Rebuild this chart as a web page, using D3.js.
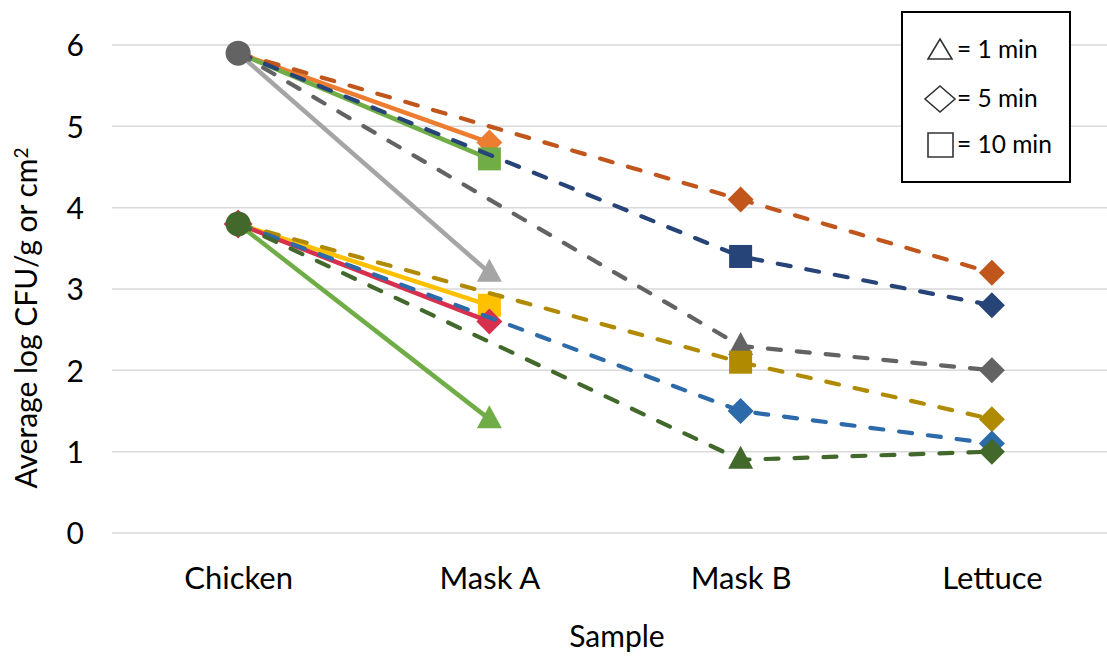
<!DOCTYPE html>
<html>
<head>
<meta charset="utf-8">
<script src="https://cdn.jsdelivr.net/npm/d3@7/dist/d3.min.js"></script>
<style>
  html, body { margin: 0; padding: 0; background: #ffffff; }
  svg { display: block; }
  text { font-family: Lato, "Open Sans", sans-serif; fill: #000; }
</style>
</head>
<body>
<svg id="chart" width="1107" height="656"></svg>
<script>
// ---------- DATA ----------
const categories = ["Chicken", "Mask A", "Mask B", "Lettuce"];
const yTicks = [0, 1, 2, 3, 4, 5, 6];
const legendLabels = ["= 1 min", "= 5 min", "= 10 min"];
const legendShapes = ["triangle", "diamond", "square"];

// series values (null = no point at that category)
const orangeSolid   = [5.9, 4.8, null, null];
const greenSolidTop = [5.9, 4.6, null, null];
const graySolid     = [5.9, 3.2, null, null];
const yellowSolid   = [3.8, 2.8, null, null];
const redSolid      = [3.8, 2.6, null, null];
const greenSolid    = [3.8, 1.4, null, null];
const orangeDashed  = [5.9, null, 4.1, 3.2];
const navyDashed    = [5.9, null, 3.4, 2.8];
const grayDashed    = [5.9, null, 2.3, 2.0];
const goldDashed    = [3.8, null, 2.1, 1.4];
const blueDashed    = [3.8, null, 1.5, 1.1];
const darkGreenDashed = [3.8, null, 0.9, 1.0];

// marker shape per point
const orangeSolidM   = [null, "diamond", null, null];
const greenSolidTopM = [null, "square", null, null];
const graySolidM     = [null, "triangle", null, null];
const yellowSolidM   = [null, "square", null, null];
const redSolidM      = ["bigdiamond", "diamond", null, null];
const greenSolidM    = [null, "triangle", null, null];
const orangeDashedM  = [null, null, "diamond", "diamond"];
const navyDashedM    = [null, null, "square", "diamond"];
const grayDashedM    = ["circle", null, "triangle", "diamond"];
const goldDashedM    = [null, null, "square", "diamond"];
const blueDashedM    = [null, null, "diamond", "diamond"];
const darkGreenDashedM = ["circle", null, "triangle", "diamond"];

const series = [
  { values: orangeSolid,   markers: orangeSolidM,   color: "#ED7D31", dashed: false },
  { values: greenSolidTop, markers: greenSolidTopM, color: "#70AD47", dashed: false },
  { values: graySolid,     markers: graySolidM,     color: "#A5A5A5", dashed: false },
  { values: yellowSolid,   markers: yellowSolidM,   color: "#FFC000", dashed: false },
  { values: redSolid,      markers: redSolidM,      color: "#D7304F", dashed: false },
  { values: greenSolid,    markers: greenSolidM,    color: "#70AD47", dashed: false },
  { values: orangeDashed,  markers: orangeDashedM,  color: "#C0561B", dashed: true },
  { values: navyDashed,    markers: navyDashedM,    color: "#264478", dashed: true },
  { values: grayDashed,    markers: grayDashedM,    color: "#636363", dashed: true },
  { values: goldDashed,    markers: goldDashedM,    color: "#B08A00", dashed: true },
  { values: blueDashed,    markers: blueDashedM,    color: "#2C6AAA", dashed: true },
  { values: darkGreenDashed, markers: darkGreenDashedM, color: "#43682B", dashed: true }
];

// ---------- LAYOUT ----------
const svg = d3.select("#chart");
const x = d3.scalePoint().domain(categories).range([112.5, 1117.5]).padding(0.5);
const y = d3.scaleLinear().domain([0, 6]).range([533, 45]);

// gridlines
svg.append("g").selectAll("line").data(yTicks).join("line")
  .attr("x1", 112).attr("x2", 1107)
  .attr("y1", d => y(d)).attr("y2", d => y(d))
  .attr("stroke", "#d9d9d9").attr("stroke-width", 1.5);

// y axis tick labels
const yAxis = d3.axisLeft(y).tickValues(yTicks).tickSize(0).tickPadding(0).tickFormat(d3.format("d"));
const gy = svg.append("g").attr("transform", "translate(84,0)").call(yAxis);
gy.select(".domain").remove();
gy.selectAll("text").style("font-size", "30px").attr("dy", "0.36em").attr("fill", "#000");

// x axis labels
const xAxis = d3.axisBottom(x).tickSize(0).tickPadding(0);
const gx = svg.append("g").attr("transform", "translate(0,578)").call(xAxis);
gx.select(".domain").remove();
gx.selectAll("text").style("font-size", "31px").attr("dy", "0.36em").attr("fill", "#000");

// axis titles
svg.append("text").attr("x", x.range()[0] + (x.range()[1] - x.range()[0]) / 2 + 2).attr("y", 647)
  .attr("text-anchor", "middle").style("font-size", "30px").text("Sample");
const yt = svg.append("text").attr("transform", "translate(37,318) rotate(-90)")
  .attr("text-anchor", "middle").style("font-size", "30px");
yt.append("tspan").text("Average log CFU/g or cm");
yt.append("tspan").attr("dy", "-0.45em").style("font-size", "19px").text("2");

function drawMarker(g, shape, cx, cy, color) {
  if (shape === "circle") {
    g.append("circle").attr("cx", cx).attr("cy", cy).attr("r", 12.5).attr("fill", color);
  } else if (shape === "square") {
    g.append("rect").attr("x", cx - 11.5).attr("y", cy - 11.5).attr("width", 23).attr("height", 23).attr("fill", color);
  } else if (shape === "diamond" || shape === "bigdiamond") {
    const r = shape === "bigdiamond" ? 14.5 : 13;
    g.append("path").attr("d", `M${cx},${cy - r}L${cx + r},${cy}L${cx},${cy + r}L${cx - r},${cy}Z`).attr("fill", color);
  } else if (shape === "triangle") {
    g.append("path").attr("d", `M${cx},${cy - 14}L${cx + 12.5},${cy + 9}L${cx - 12.5},${cy + 9}Z`).attr("fill", color);
  }
}

const line = d3.line().x(d => x(d.cat)).y(d => y(d.v));

const plot = svg.append("g");
series.forEach(s => {
  const pts = s.values.map((v, i) => ({ cat: categories[i], v, m: s.markers[i] })).filter(d => d.v !== null);
  const g = plot.append("g");
  g.append("path").datum(pts).attr("d", line)
    .attr("fill", "none").attr("stroke", s.color)
    .attr("stroke-width", s.dashed ? 4.2 : 4.5)
    .attr("stroke-linecap", s.dashed ? "round" : "butt")
    .attr("stroke-dasharray", s.dashed ? "13,16" : null);
  pts.forEach(d => { if (d.m) drawMarker(g, d.m, x(d.cat), y(d.v), s.color); });
});

// legend
const lg = svg.append("g");
lg.append("rect").attr("x", 902).attr("y", 12).attr("width", 168).attr("height", 170)
  .attr("fill", "#fff").attr("stroke", "#000").attr("stroke-width", 2);
const legendY = [50, 99, 145];
legendShapes.forEach((shape, i) => {
  const cy = legendY[i];
  const cx = 940;
  let d;
  if (shape === "triangle") d = `M${cx},${cy - 11}L${cx + 12},${cy + 9}L${cx - 12},${cy + 9}Z`;
  if (shape === "diamond") d = `M${cx},${cy - 13}L${cx + 15},${cy}L${cx},${cy + 13}L${cx - 15},${cy}Z`;
  if (shape === "square") d = `M${cx - 12},${cy - 12}H${cx + 13}V${cy + 12}H${cx - 12}Z`;
  lg.append("path").attr("d", d).attr("fill", "none").attr("stroke", "#333").attr("stroke-width", 1.6);
  lg.append("text").attr("x", 957).attr("y", cy + 8).style("font-size", "24.5px").text(legendLabels[i]);
});
</script>
</body>
</html>
